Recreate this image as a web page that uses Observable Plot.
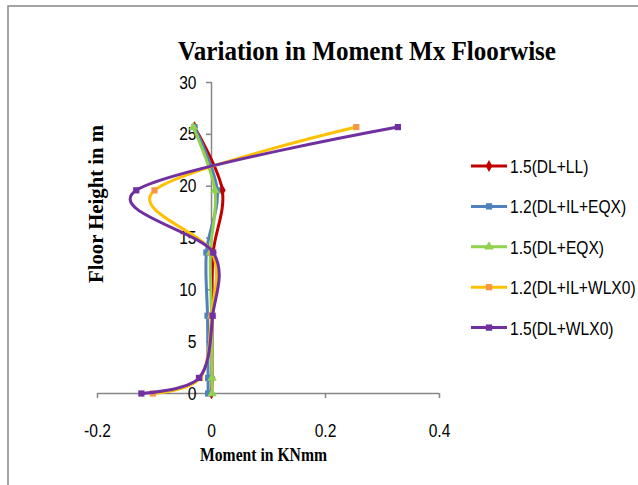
<!DOCTYPE html>
<html>
<head>
<meta charset="utf-8">
<script src="https://cdn.jsdelivr.net/npm/d3@7"></script>
<script src="https://cdn.jsdelivr.net/npm/@observablehq/plot@0.6"></script>
<style>
  html, body { margin: 0; padding: 0; background: #fff; }
  #wrap { position: relative; width: 638px; height: 485px; overflow: hidden; background: #fff; }
  #wrap > svg { position: absolute; left: 0; top: 0; }
  #overlay { pointer-events: none; }
</style>
</head>
<body>
<div id="wrap"></div>
<script>
// ---- data ----
const heights = [0, 1.5, 7.5, 13.6, 19.6, 25.7];
const seriesNames = ["1.5(DL+LL)", "1.2(DL+IL+EQX)", "1.5(DL+EQX)", "1.2(DL+IL+WLX0)", "1.5(DL+WLX0)"];
const s_DL_LL      = [0.000, 0.001, 0.001, 0.003, 0.019, -0.030];
const s_DL_IL_EQX  = [-0.006, -0.006, -0.007, -0.009, 0.010, -0.030];
const s_DL_EQX     = [0.001, 0.001, 0.000, -0.002, 0.006, -0.032];
const s_DL_IL_WLX0 = [-0.103, -0.020, 0.000, 0.001, -0.100, 0.254];
const s_DL_WLX0    = [-0.123, -0.022, 0.002, 0.003, -0.132, 0.327];
const xTicks = [-0.2, 0, 0.2, 0.4];
const yTicks = [0, 5, 10, 15, 20, 25, 30];
const titleText = "Variation in Moment Mx Floorwise";
const xTitle = "Moment in KNmm";
const yTitle = "Floor Height in m";

const seriesValues = [s_DL_LL, s_DL_IL_EQX, s_DL_EQX, s_DL_IL_WLX0, s_DL_WLX0];
const colors = ["#C00000", "#4F81BD", "#92D050", "#FFC000", "#7030A0"];
const markerFill = ["#C00000", "#4F81BD", "#92D050", "#F79646", "#7030A0"];
const symbols = ["diamond", "square", "triangle", "square", "square"];

const rows = [];
seriesNames.forEach((name, si) => {
  heights.forEach((h, i) => rows.push({series: name, m: seriesValues[si][i], h}));
});

const W = 638, H = 485, ML = 97, MR = 199, MT = 82, MB = 92;
const xDomain = [-0.2, 0.4];
const yAxisDx = (0 - xDomain[0]) / (xDomain[1] - xDomain[0]) * (W - ML - MR);
const tickFont = "'Liberation Sans', Arial, sans-serif";
const squeeze = 0.82;
const axisGray = "#868686";

const marks = [
  Plot.ruleY([0], {stroke: axisGray, strokeWidth: 1.5}),
  Plot.ruleX([0], {y1: 0, y2: 30, stroke: axisGray, strokeWidth: 1.5}),
  Plot.axisX({ticks: xTicks, tickSize: 5, tickPadding: 25, stroke: axisGray, strokeWidth: 1.5,
    tickFormat: d => String(d), label: null}),
  Plot.axisY({ticks: yTicks, tickSize: 5, tickPadding: 10, dx: yAxisDx, stroke: axisGray, strokeWidth: 1.5,
    tickFormat: d => String(d), label: null})
];
seriesNames.forEach((name, si) => {
  const data = rows.filter(r => r.series === name);
  marks.push(Plot.line(data, {x: "m", y: "h", stroke: colors[si], strokeWidth: 3, curve: "cardinal"}));
  marks.push(Plot.dot(data, {x: "m", y: "h", symbol: symbols[si], fill: markerFill[si], r: 3.5}));
});

const chart = Plot.plot({
  width: W, height: H,
  marginLeft: ML, marginRight: MR, marginTop: MT, marginBottom: MB,
  x: {domain: xDomain},
  y: {domain: [0, 30]},
  style: {fontFamily: tickFont, fontSize: "19px", color: "#000", background: "transparent", overflow: "visible"},
  marks
});
const wrap = document.getElementById("wrap");
wrap.appendChild(chart);

function squeezeText(sel) {
  sel.each(function() {
    const w = this.getComputedTextLength();
    if (w > 0) {
      this.setAttribute("textLength", (w * squeeze).toFixed(1));
      this.setAttribute("lengthAdjust", "spacingAndGlyphs");
    }
  });
}
squeezeText(d3.select(chart).selectAll("text"));

// ---- overlay: border, titles, legend ----
const ov = d3.select(wrap).append("svg").attr("id", "overlay").attr("width", W).attr("height", H);
ov.append("path").attr("d", `M8,${H} L8,6 L${W},6`).attr("fill", "none").attr("stroke", "#878787").attr("stroke-width", 1.5);

ov.append("text").text(titleText)
  .attr("x", 367).attr("y", 60).attr("text-anchor", "middle")
  .attr("textLength", 378).attr("lengthAdjust", "spacingAndGlyphs")
  .style("font-family", "'Liberation Serif', 'Times New Roman', serif").style("font-weight", "bold").style("font-size", "28px");

ov.append("text").text(xTitle)
  .attr("x", 263.5).attr("y", 461).attr("text-anchor", "middle")
  .attr("textLength", 127).attr("lengthAdjust", "spacingAndGlyphs")
  .style("font-family", "'Liberation Serif', 'Times New Roman', serif").style("font-weight", "bold").style("font-size", "19px");

ov.append("text").text(yTitle)
  .attr("transform", "translate(103,204) rotate(-90)").attr("text-anchor", "middle")
  .attr("textLength", 158).attr("lengthAdjust", "spacingAndGlyphs")
  .style("font-family", "'Liberation Serif', 'Times New Roman', serif").style("font-weight", "bold").style("font-size", "20px");

const symMap = {diamond: d3.symbolDiamond, square: d3.symbolSquare, triangle: d3.symbolTriangle};
const legendTexts = [];
seriesNames.forEach((name, i) => {
  const cy = 166 + i * 40.4;
  const g = ov.append("g");
  g.append("line").attr("x1", 471).attr("x2", 507).attr("y1", cy).attr("y2", cy)
    .attr("stroke", colors[i]).attr("stroke-width", 3);
  g.append("path").attr("d", d3.symbol(symMap[symbols[i]], 40)())
    .attr("transform", `translate(489,${cy})`).attr("fill", markerFill[i]);
  legendTexts.push(g.append("text").text(name).attr("x", 510).attr("y", cy + 7)
    .style("font-family", tickFont).style("font-size", "19px").attr("fill", "#000").node());
});
squeezeText(d3.selectAll(legendTexts));
</script>
</body>
</html>
